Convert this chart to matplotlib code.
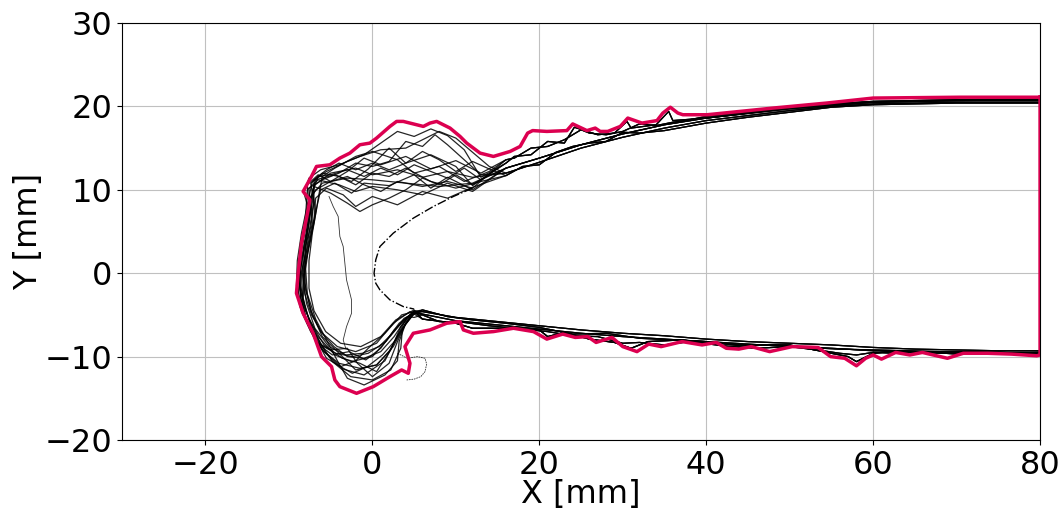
import numpy as np
import matplotlib
matplotlib.use('Agg')
import matplotlib.pyplot as plt

# outer envelope of all flame contours (red)
env_x = [80.0, 70.4, 60.0, 54.4, 48.0, 40.1, 37.2, 36.6, 35.7, 34.8, 34.1, 32.3, 30.6, 29.7,
         28.2, 27.3, 26.7, 25.7, 24.0, 23.3, 20.9, 19.2, 18.6, 17.7, 16.5, 14.5, 12.9, 11.3,
         10.5, 9.3, 7.7, 6.9, 6.1, 3.7, 2.9, 2.1, 0.5, -0.3, -1.5, -2.7, -3.9, -5.1, -6.7,
         -7.3, -8.3, -7.5, -7.7, -8.5, -8.9, -9.1, -8.3, -7.1, -6.1, -4.9, -4.5, -3.9, -1.9,
         0.1, 2.1, 3.5, 4.3, 4.5, 3.9, 4.9, 6.9, 8.9, 10.5, 10.9, 12.1, 14.5, 16.9, 19.3,
         20.9, 22.8, 24.3, 25.8, 26.8, 28.7, 30.0, 31.7, 33.1, 34.6, 37.1, 39.5, 41.2, 42.4,
         43.9, 45.4, 47.6, 50.3, 53.4, 54.9, 56.6, 58.0, 59.1, 60.0, 61.0, 62.7, 64.4, 65.9,
         68.9, 70.8, 73.7, 76.6, 79.6, 80.0, 80.0]
env_y = [21.1, 21.1, 21.0, 20.4, 19.8, 19.0, 19.0, 19.2, 19.9, 19.2, 18.3, 18.0, 18.6, 17.6,
         17.0, 17.0, 17.4, 17.1, 17.9, 17.1, 17.0, 17.1, 16.8, 15.2, 14.6, 14.0, 14.4, 15.6,
         16.4, 17.4, 18.2, 18.0, 17.6, 18.2, 18.2, 17.6, 16.2, 15.6, 15.4, 14.4, 13.8, 13.0, 12.8,
         11.6, 9.8, 8.8, 7.6, 3.6, 0.0, -2.4, -4.8, -7.2, -10.0, -11.2, -12.8, -13.6, -14.4,
         -13.6, -12.4, -11.6, -12.0, -10.8, -8.8, -7.2, -6.8, -6.0, -5.8, -6.8, -7.2, -7.0, -6.6, -7.0,
         -7.9, -7.3, -7.7, -7.6, -8.3, -7.7, -8.8, -9.4, -8.5, -8.8, -8.2, -8.6, -8.3, -9.0,
         -9.1, -8.8, -9.4, -8.8, -8.9, -10.0, -10.2, -11.1, -10.2, -9.8, -10.3, -9.5, -9.8, -9.5,
         -10.2, -9.6, -9.6, -9.7, -9.9, -9.8, 21.1]

# inner reference boundary (dash-dot)
ref_x = [12.0, 9.7, 7.3, 4.9, 2.5, 0.9, 0.4, 0.2, 0.4, 0.9, 2.1, 3.7, 5.0]
ref_y = [10.2, 9.2, 8.0, 6.6, 4.8, 3.2, 1.6, 0.0, -1.2, -2.0, -3.2, -4.0, -4.3]

# attached parts of the contours along the upper side (x decreasing)
upper_tails = [
    ([80, 70, 60, 55, 50, 45, 40, 35, 30, 25, 20, 16],
     [20.9, 20.8, 20.6, 20.3, 19.8, 19.2, 18.6, 17.8, 16.7, 15.4, 13.8, 12.6]),
    ([80, 70, 60, 55, 50, 45, 40, 35, 30, 25, 20, 16],
     [20.5, 20.5, 20.3, 20.0, 19.5, 18.9, 18.3, 17.4, 16.3, 15.0, 13.3, 12.0]),
    ([80, 70, 60, 50, 40, 36, 35.5, 34, 31, 30.5, 29, 27, 24.2, 23, 21, 19, 17, 16],
     [20.7, 20.7, 20.5, 19.7, 18.6, 18.3, 19.4, 17.8, 17.4, 18.2, 16.8, 16.6, 17.5, 15.6, 15.8, 14.2, 14.0, 13.2]),
    ([80, 70, 60, 55, 50, 45, 40, 35, 32, 30, 28, 26, 24, 22, 20, 18, 16],
     [20.4, 20.4, 20.2, 19.9, 19.3, 18.7, 18.0, 17.1, 16.8, 16.9, 15.8, 15.6, 15.2, 14.5, 13.0, 12.8, 11.7]),
    ([80, 70, 60, 50, 45, 40, 38, 36, 34, 32, 30, 28, 26, 25, 23, 21, 19, 17, 16],
     [20.8, 20.7, 20.5, 19.9, 19.3, 18.8, 18.4, 18.1, 17.7, 17.9, 17.0, 16.6, 16.8, 17.2, 16.0, 15.2, 15.0, 13.8, 13.6]),
]

# attached parts along the lower side (x increasing)
lower_tails = [
    ([6, 10, 15, 20, 25, 30, 35, 40, 45, 50, 55, 60, 65, 70, 75, 80],
     [-4.6, -5.3, -5.8, -6.3, -6.8, -7.2, -7.5, -7.9, -8.2, -8.4, -8.6, -8.9, -9.1, -9.2, -9.3, -9.3]),
    ([6, 10, 15, 20, 25, 30, 35, 40, 45, 50, 55, 60, 65, 70, 75, 80],
     [-4.9, -5.7, -6.2, -6.7, -7.2, -7.6, -7.9, -8.2, -8.5, -8.8, -9.0, -9.3, -9.4, -9.5, -9.6, -9.7]),
    ([6, 10, 12, 15, 20, 21, 23, 26, 29, 31, 33, 37, 40, 45, 50, 55, 57, 58, 60, 62, 65, 70, 75, 80],
     [-5.5, -6.0, -6.6, -6.6, -6.8, -7.6, -7.1, -7.9, -8.3, -9.0, -8.2, -8.0, -8.3, -8.6, -8.6, -9.6,
      -10.0, -10.6, -9.6, -9.4, -9.5, -9.6, -9.5, -9.6]),
    ([6, 9, 12, 16, 20, 24, 28, 32, 36, 40, 44, 48, 52, 56, 60, 64, 68, 72, 76, 80],
     [-4.4, -5.2, -5.6, -6.0, -6.5, -7.3, -7.2, -7.8, -8.0, -8.2, -8.7, -8.6, -8.9, -9.1, -9.2, -9.3,
      -9.4, -9.4, -9.5, -9.5]),
    ([6, 8, 11, 14, 18, 21, 24, 27, 30, 32, 35, 38, 42, 46, 50, 54, 56, 58, 60, 63, 66, 70, 75, 80],
     [-5.0, -5.8, -5.9, -6.3, -6.7, -7.0, -7.5, -7.6, -8.4, -8.3, -8.6, -8.2, -8.7, -9.0, -8.8, -9.3,
      -9.6, -9.8, -9.5, -9.6, -9.4, -9.7, -9.6, -9.5]),
]

# contour parts around the leading edge
noses = [
    ([12, 8, 4, 0, -3, -6, -7.4, -7.6, -8.0, -8.3, -8.1, -7.3, -6.0, -4.2, -2.0, 0.5, 2.5, 4.5],
     [10.8, 10.4, 10.8, 11.2, 11.4, 10.8, 9.2, 6, 3, 0, -2.5, -5, -7.2, -8.8, -9.4, -8.4, -6.0, -4.6]),
    ([12, 9, 6, 3, 0, -2, -5, -7, -7.2, -7.8, -8.6, -8.6, -8.0, -6.6, -4.5, -2.5, 0, 2.2, 3.8, 5],
     [11.5, 12.2, 11.5, 12.4, 11.8, 12.6, 12.0, 10.5, 8.5, 5, 1.5, -1.5, -4.5, -7.5, -9.8, -10.6, -10.0, -7.5, -5.4, -4.9]),
    ([13, 11, 9, 7, 5, 3, 1, -1, -3, -5.5, -7.4, -7.0, -7.4, -8.4, -8.8, -8.2, -7.0, -5.6, -3.5, -1.0, 1.5, 3.0, 4.2, 5],
     [11.5, 14.8, 16.5, 17.3, 16.4, 17.0, 15.6, 14.2, 13.4, 12.2, 10.8, 8.5, 5.5, 2.0, -1.0, -4.0, -7.0, -9.5, -11.5, -12.2, -10.5, -7.5, -5.2, -5.3]),
    ([12, 9, 6, 3, 0, -2, -3.5, -5.5, -6.8, -7.0, -7.6, -8.0, -7.8, -6.8, -5.5, -4.2, -3.0, -1.0, 1.5, 3.0, 3.2, 4.0, 5.0],
     [10.3, 9.0, 9.8, 8.2, 9.2, 8.0, 9.4, 10.2, 9.0, 6.5, 3.5, 0.5, -2.5, -5.5, -8.0, -10.5, -12.6, -13.4, -12.2, -10.5, -8.2, -6.0, -4.9]),
    ([13, 10, 7, 4, 1, -1, -3, -5, -6.5, -7.8, -7.6, -8.2, -8.8, -8.7, -7.6, -5.8, -3.6, -1.5, 0.5, 2.2, 3.4, 5],
     [12.0, 13.5, 12.5, 14.0, 13.0, 13.8, 12.2, 11.0, 11.8, 10.6, 8.0, 4.5, 1.0, -2.0, -5.5, -8.6, -10.2, -10.8, -11.8, -9.2, -6.4, -4.6]),
    ([12, 9, 7, 5, 2, -1, -2.5, -4.5, -6.2, -6.6, -7.2, -7.6, -7.6, -7.0, -5.6, -3.8, -1.4, 1.0, 2.8, 5],
     [10.0, 11.5, 10.2, 11.8, 10.5, 10.8, 9.6, 10.8, 10.0, 8.2, 4.8, 1.5, -1.8, -4.5, -7.0, -8.4, -8.8, -7.6, -5.6, -4.4]),
    ([14, 12, 10, 8, 6, 4, 1, -1.5, -4, -6.2, -7.6, -8.2, -7.6, -8.0, -8.6, -8.9, -8.2, -7.0, -5.5, -3.8, -2.0, -0.5, 1.5, 3.5, 5],
     [12.8, 14.5, 16.2, 17.0, 16.0, 15.0, 14.8, 14.0, 13.0, 12.4, 11.4, 9.6, 7.5, 4.0, 0.5, -2.5, -5.0, -7.5, -10.2, -11.2, -10.5, -9.0, -7.2, -5.0, -4.6]),
    ([12, 10, 7, 4, 2, -0.5, -2.5, -4.5, -6.8, -7.2, -6.8, -7.4, -8.1, -8.3, -7.5, -6.2, -4.8, -2.6, 0.0, 2.2, 3.4, 3.6, 5],
     [10.5, 12.8, 14.2, 13.2, 15.0, 12.5, 11.0, 11.8, 11.2, 9.8, 7.5, 4.0, 0.8, -3.0, -6.0, -8.4, -10.6, -12.4, -12.8, -11.6, -9.0, -6.6, -4.8]),
    ([13, 10, 7, 4, 2, 0, -2, -4, -6, -7.2, -7.8, -8.5, -9.0, -9.1, -8.7, -7.6, -6.4, -4.8, -2.8, -0.8, 1.0, 2.6, 5],
     [11.0, 10.2, 11.0, 12.6, 11.6, 12.0, 10.6, 11.6, 12.0, 11.0, 8.2, 4.8, 1.5, -1.5, -4.0, -6.4, -8.6, -9.8, -9.4, -10.4, -9.0, -6.8, -4.5]),
    ([14, 11, 8, 5, 3, 0, -2, -4.5, -6.0, -6.4, -7.0, -7.8, -8.3, -8.4, -7.8, -6.8, -5.0, -3.0, -1.8, 0.0, 2.0, 3.0, 4.0, 5],
     [12.2, 11.0, 12.8, 12.0, 13.6, 14.6, 14.0, 12.6, 11.6, 9.5, 6.0, 2.5, -0.5, -3.5, -6.0, -8.2, -9.2, -9.0, -10.8, -12.4, -10.8, -8.2, -6.0, -4.7]),
    ([12, 9, 6, 3, 0, -2, -4, -6.5, -7.8, -8.0, -8.4, -8.8, -8.6, -7.8, -6.2, -4.4, -2.4, -0.5, 1.6, 3.2, 5],
     [9.8, 10.8, 9.4, 10.0, 10.4, 9.8, 10.6, 11.2, 10.0, 7.0, 3.5, 0.0, -3.0, -6.0, -8.6, -9.6, -10.0, -9.6, -8.2, -6.0, -4.6]),
    ([13, 11, 9, 7.5, 6, 4, 2, 0, -2, -4, -6, -7.6, -7.4, -7.9, -8.2, -8.0, -7.2, -6.0, -4.0, -2.0, 0.5, 2.5, 3.8, 5],
     [11.8, 13.6, 15.4, 16.6, 15.2, 15.8, 13.4, 12.8, 13.2, 12.0, 11.2, 10.2, 7.5, 4.2, 1.0, -2.0, -5.0, -7.6, -9.6, -11.6, -11.0, -8.8, -6.4, -4.8]),
    ([12, 10, 8, 6, 4, 2, 0, -1.5, -3, -5, -7, -7.4, -7.2, -7.8, -8.5, -8.6, -8.0, -7.0, -5.8, -4.0, -1.5, 0.5, 2.0, 3.2, 5],
     [10.6, 11.8, 10.6, 11.4, 10.0, 9.0, 8.2, 7.4, 8.4, 9.6, 10.4, 9.0, 6.0, 3.0, 0.2, -2.8, -5.4, -7.6, -9.4, -10.8, -11.4, -11.0, -9.4, -7.2, -4.6]),
    ([14, 12, 10, 8, 6, 4, 2, 0, -2, -4, -5.5, -7.0, -7.0, -7.5, -8.0, -8.1, -7.4, -6.2, -4.6, -3.0, -1.0, 1.0, 2.6, 3.8, 5],
     [12.5, 13.4, 12.2, 13.6, 14.6, 13.2, 12.4, 13.2, 12.4, 13.2, 12.4, 11.2, 8.8, 5.5, 2.0, -1.2, -4.4, -7.0, -8.8, -10.0, -10.2, -9.4, -7.6, -5.8, -4.6]),
    ([12, 9, 6, 3, 1, -1, -3, -5, -6.8, -7.6, -8.0, -8.7, -9.0, -8.5, -7.4, -6.0, -4.2, -2.4, -0.6, 1.2, 2.8, 4.0, 5],
     [10.2, 11.0, 10.4, 11.0, 9.8, 10.6, 11.6, 11.0, 10.0, 8.6, 5.5, 2.0, -1.2, -4.6, -7.0, -9.2, -11.0, -12.0, -11.2, -9.8, -8.0, -6.0, -4.6]),
    ([13, 11, 9, 7, 5, 3, 1, -1, -3, -5, -6.5, -7.2, -7.6, -8.2, -8.4, -7.9, -6.9, -5.2, -3.2, -1.2, 0.8, 2.6, 4.0, 5],
     [11.2, 12.6, 11.4, 12.2, 13.0, 11.8, 12.6, 11.6, 12.4, 11.8, 11.6, 9.6, 6.8, 3.4, 0.0, -3.6, -6.6, -8.8, -9.8, -9.6, -8.8, -7.0, -5.4, -4.6]),
]

# loose fragments inside the region
inner_x = [-5.2, -4.7, -4.1, -3.9, -3.5, -3.1, -2.5, -2.5, -3.1, -3.5, -3.2]
inner_y = [9.2, 8.0, 6.8, 4.4, 3.2, -0.8, -3.2, -4.8, -6.4, -8.0, -9.0]
hook_x = [3.0, 4.2, 5.4, 6.3, 6.5, 6.3, 5.8, 5.0, 4.1]
hook_y = [-9.6, -10.2, -10.0, -10.2, -10.9, -11.8, -12.4, -12.7, -12.8]


fig = plt.figure(figsize=(10.64, 5.11), dpi=100)
ax = fig.add_axes([0.1147, 0.1389, 0.8628, 0.8161])

for i, (nx, ny) in enumerate(noses):
    ux, uy = upper_tails[i % len(upper_tails)]
    lx, ly = lower_tails[(i + 2) % len(lower_tails)]
    xs = list(ux) + list(nx) + list(lx)
    ys = list(uy) + list(ny) + list(ly)
    ax.plot(xs, ys, color='black', lw=0.9, alpha=0.85)

ax.plot(inner_x, inner_y, color='black', lw=0.6, alpha=0.8)
ax.plot(hook_x, hook_y, color='black', lw=0.6, alpha=0.8, ls=(0, (2, 1)))
ax.plot(ref_x, ref_y, color='black', lw=1.0, ls='-.')
ax.plot(env_x, env_y, color='#dc0050', lw=2.5)

ax.set_xlim(-30, 80)
ax.set_ylim(-20, 30)
ax.set_xticks([-20, 0, 20, 40, 60, 80])
ax.set_yticks([-20, -10, 0, 10, 20, 30])
ax.grid(True, color='#c0c0c0', lw=0.8)
ax.set_axisbelow(True)
ax.tick_params(labelsize=23)
ax.set_xlabel('X [mm]', fontsize=23, labelpad=-1)
ax.set_ylabel('Y [mm]', fontsize=23, labelpad=0)

fig.savefig('out.png', dpi=100)
